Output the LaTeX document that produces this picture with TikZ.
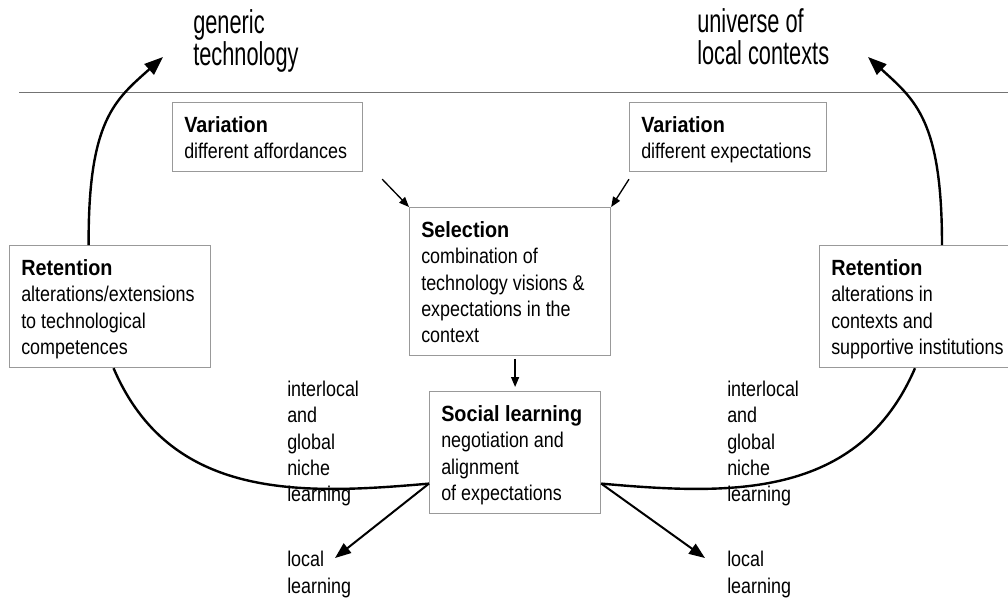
\documentclass[tikz,border=0pt]{standalone}
\usepackage{fontspec}
\setmainfont{Liberation Sans}
\newfontfamily\headfont[FakeStretch=0.66]{Liberation Sans}
\newfontfamily\bodyfont[FakeStretch=0.84]{Liberation Sans}
\newfontfamily\titlefont[FakeStretch=0.9]{Liberation Sans}
\usetikzlibrary{arrows.meta}
\newcommand\boxtitle[1]{{\titlefont\fontsize{16.5}{19.8}\selectfont\bfseries #1}}
\begin{document}
\begin{tikzpicture}[x=0.75pt,y=-0.75pt,
  boxn/.style={draw=black!40, line width=0.9pt, inner sep=0pt, anchor=north west},
  txt/.style={inner sep=0pt, anchor=north west, align=left, font=\bodyfont\fontsize{16}{19.8}\selectfont},
  head/.style={inner sep=0pt, anchor=north west, align=left, font=\headfont\fontsize{24.75}{24.5}\selectfont},
  big/.style={line width=1.8pt, -{Triangle[length=14pt,width=10.5pt]}},
  small/.style={line width=1pt, -{Triangle[length=7.5pt,width=6pt]}},
  loc/.style={line width=1.5pt, -{Triangle[length=12pt,width=9pt]}},
  curve/.style={line width=1.8pt}]
\useasboundingbox (0,0) rectangle (1008,601);
\clip (0,0) rectangle (1008,601);
% header
\node[head] (gen) at (193,9) {\rule{0pt}{18pt}generic\\technology};
\node[head] (uni) at (697,8) {\rule{0pt}{18pt}universe of\\local contexts};
\coordinate (hl1) at (19,92);
\coordinate (hl2) at (1008,92);
\draw[black!55, line width=0.75pt] (hl1) -- (hl2);
% boxes
\node[boxn, minimum width=142.5pt, minimum height=51.75pt] (varL) at (172,102) {};
\node[boxn, minimum width=147.75pt, minimum height=51.75pt] (varR) at (629,102) {};
\node[boxn, minimum width=150.75pt, minimum height=111pt] (sel) at (409,207) {};
\node[boxn, minimum width=128.25pt, minimum height=91.5pt] (soc) at (429,391) {};
\node[boxn, minimum width=150.75pt, minimum height=91.5pt] (retL) at (9,245) {};
\node[boxn, minimum width=165pt, minimum height=91.5pt] (retR) at (819,245) {};
% box texts
\node[txt] (varLt) at ([shift={(9pt,-8.6pt)}]varL.north west) {\strut\boxtitle{Variation}\\different affordances};
\node[txt] (varRt) at ([shift={(9pt,-8.6pt)}]varR.north west) {\strut\boxtitle{Variation}\\different expectations};
\node[txt] (selt) at ([shift={(9pt,-8.6pt)}]sel.north west) {\strut\boxtitle{Selection}\\combination of\\technology visions \&\\expectations in the\\context};
\node[txt] (soct) at ([shift={(9pt,-8.6pt)}]soc.north west) {\strut\boxtitle{Social learning}\\negotiation and\\alignment\\of expectations};
\node[txt] (retLt) at ([shift={(9pt,-8.6pt)}]retL.north west) {\strut\boxtitle{Retention}\\alterations/extensions\\to technological\\competences};
\node[txt] (retRt) at ([shift={(9pt,-8.6pt)}]retR.north west) {\strut\boxtitle{Retention}\\alterations in\\contexts and\\supportive institutions};
% free texts
\node[txt] (nicheL) at (287,377.5) {\strut interlocal\\and\\global\\niche\\learning};
\node[txt] (nicheR) at (727,377.5) {\strut interlocal\\and\\global\\niche\\learning};
\node[txt] (locL) at (287,548.2) {\strut local\\learning};
\node[txt] (locR) at (727,548.2) {\strut local\\learning};
% coordinates for free ends
\coordinate (gtip) at (163,57);
\coordinate (utip) at (868,57);
\coordinate (llTip) at (335,558);
\coordinate (lrTip) at (705,558);
% connectors
\draw[big] ([xshift=-16.1pt]retL.north) .. controls (88,120) and (115,100) .. (gtip);
\draw[big] ([xshift=92.25pt]retR.north west) .. controls (942,120) and (915,100) .. (utip);
\draw[small] ([shift={(14.25pt,-5.25pt)}]varL.south east) -- (sel.north west);
\draw[small] ([yshift=-5.25pt]varR.south west) -- (sel.north east);
\draw[small, shorten <=2pt, shorten >=3pt] (sel.south -| soc.north) -- (soc.north);
\draw[curve] ([xshift=2.6pt]retL.south) .. controls (170,500) and (300,495) .. ([yshift=-23.25pt]soc.west);
\draw[curve] ([xshift=72pt]retR.south west) .. controls (858,500) and (729,495) .. ([yshift=-23.25pt]soc.east);
\draw[loc] ([yshift=-23.25pt]soc.west) -- (llTip);
\draw[loc] ([yshift=-23.25pt]soc.east) -- (lrTip);
\end{tikzpicture}
\end{document}
